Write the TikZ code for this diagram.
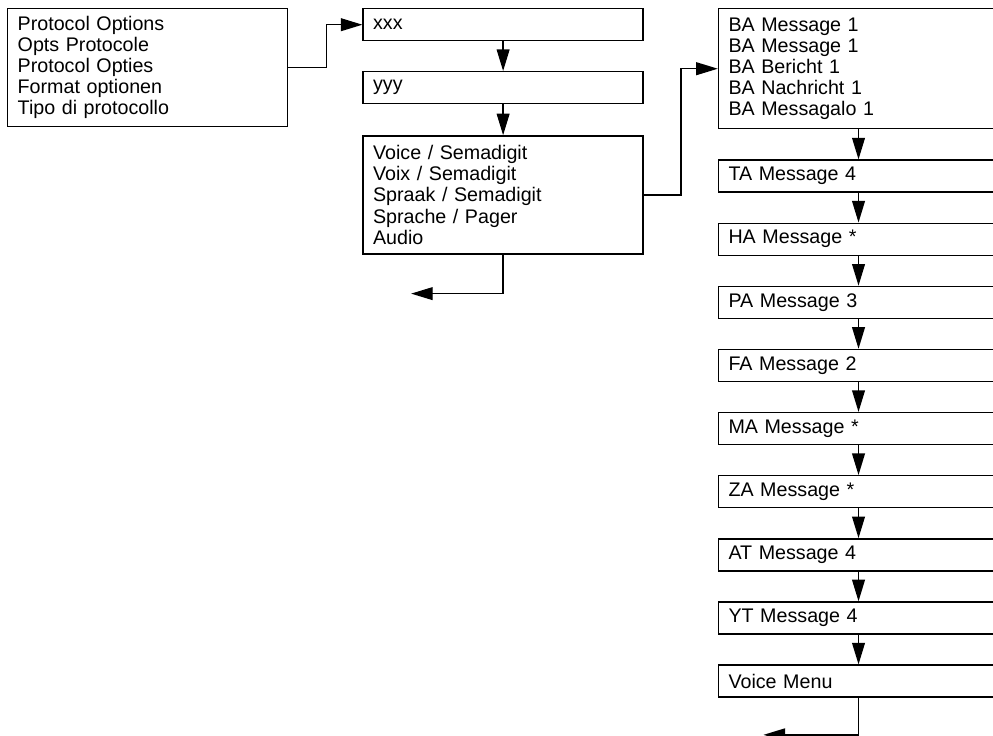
\documentclass[tikz,border=0pt]{standalone}
\usepackage{fontspec}
\setmainfont{Liberation Sans}
\usetikzlibrary{positioning,arrows.meta,calc}

\begin{document}
\begin{tikzpicture}[
    font=\fontsize{14}{15}\selectfont,
    menubox/.style={
      rectangle,
      draw,
      line width=1pt,
      minimum width=7cm,
      text width=6.5cm,
      inner xsep=0.25cm,
      inner ysep=0pt,
      align=left,
      minimum height=0.8cm,
    },
    listbox/.style={menubox, minimum height=2.95cm},
    flow/.style={line width=1pt, -{Triangle[length=0.54cm,width=0.32cm]}},
  ]
    \useasboundingbox (0,0) rectangle (24.825,-18.375);

    \node[listbox, anchor=north west] (Protocol) at (0.175,-0.2) {
      Protocol Options\\
      Opts Protocole\\
      Protocol Opties\\
      Format optionen\\
      Tipo di protocollo
    };

    \node[menubox, right=1.85cm of Protocol.north east, anchor=north west] (Xxx) {xxx};
    \node[menubox, below=0.74cm of Xxx] (Yyy) {yyy};
    \node[listbox, below=0.77cm of Yyy] (Voice) {
      Voice / Semadigit\\
      Voix / Semadigit\\
      Spraak / Semadigit\\
      Sprache / Pager\\
      Audio
    };

    \node[listbox, minimum height=3cm, right=1.85cm of Xxx.north east, anchor=north west] (BA) {
      BA Message 1\\
      BA Message 1\\
      BA Bericht 1\\
      BA Nachricht 1\\
      BA Messagalo 1
    };
    \node[menubox, below=0.75cm of BA] (TA) {TA Message 4};
    \node[menubox, below=0.743cm of TA] (HA) {HA Message *};
    \node[menubox, below=0.743cm of HA] (PA) {PA Message 3};
    \node[menubox, below=0.743cm of PA] (FA) {FA Message 2};
    \node[menubox, below=0.743cm of FA] (MA) {MA Message *};
    \node[menubox, below=0.743cm of MA] (ZA) {ZA Message *};
    \node[menubox, below=0.743cm of ZA] (AT) {AT Message 4};
    \node[menubox, below=0.743cm of AT] (YT) {YT Message 4};
    \node[menubox, below=0.743cm of YT] (VoiceMenu) {Voice Menu};

    % protocol menu
    \draw[flow] (Protocol.east) -- ++(0.95cm,0) |- (Xxx.west);
    \draw[flow] (Xxx.south) -- (Yyy.north);
    \draw[flow] (Yyy.south) -- (Voice.north);
    \coordinate (VoiceBack) at ($(Voice.south)+(-2.3cm,-0.975cm)$);
    \draw[flow] (Voice.south) |- (VoiceBack);
    \draw[flow] (Voice.east) -- ++(0.925cm,0) |- (BA.west);

    % message list
    \draw[flow] (BA.south) -- (TA.north);
    \draw[flow] (TA.south) -- (HA.north);
    \draw[flow] (HA.south) -- (PA.north);
    \draw[flow] (PA.south) -- (FA.north);
    \draw[flow] (FA.south) -- (MA.north);
    \draw[flow] (MA.south) -- (ZA.north);
    \draw[flow] (ZA.south) -- (AT.north);
    \draw[flow] (AT.south) -- (YT.north);
    \draw[flow] (YT.south) -- (VoiceMenu.north);
    \coordinate (MenuBack) at ($(VoiceMenu.south)+(-2.375cm,-0.925cm)$);
    \draw[flow] (VoiceMenu.south) |- (MenuBack);
  \end{tikzpicture}
\end{document}
